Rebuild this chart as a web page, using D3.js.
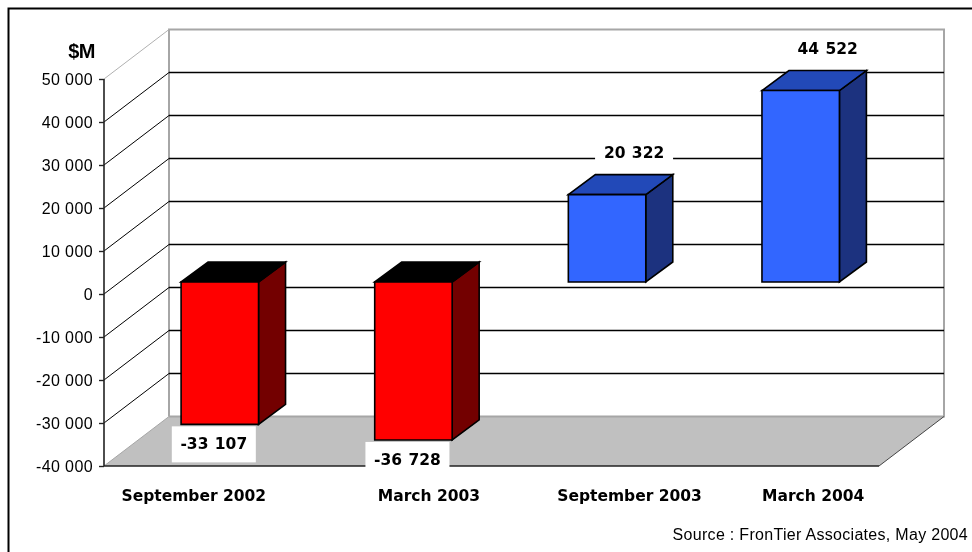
<!DOCTYPE html>
<html><head><meta charset="utf-8">
<style>html,body{margin:0;padding:0;background:#fff}svg{display:block}
text{font-family:"Liberation Sans",Arial,sans-serif;fill:#000}
.cat{font-family:"DejaVu Sans",sans-serif;font-weight:bold;font-size:15.5px}
.val{font-family:"DejaVu Sans",sans-serif;font-weight:bold;font-size:15.5px;word-spacing:1px}
.tick{font-size:16px;letter-spacing:.4px}
</style></head><body>
<script src="https://cdnjs.cloudflare.com/ajax/libs/d3/7.8.5/d3.min.js"></script>
<script>
const categories = ["September 2002","March 2003","September 2003","March 2004"];
const values = [-33107,-36728,20322,44522];
const valueLabels = ["-33 107","-36 728","20 322","44 522"];
const tickValues = [50000,40000,30000,20000,10000,0,-10000,-20000,-30000,-40000];
const tickLabels = ["50 000","40 000","30 000","20 000","10 000","0","-10 000","-20 000","-30 000","-40 000"];

const W=972,H=552;
const svg=d3.select("body").append("svg").attr("width",W).attr("height",H);
svg.append("defs").append("filter").attr("id","soft").attr("x","-2%").attr("y","-2%").attr("width","104%").attr("height","104%")
  .append("feGaussianBlur").attr("stdDeviation",0.45);
const g=svg.append("g").attr("filter","url(#soft)");

const frontL=104,frontR=879,wallDX=65,wallDY=-49.5;
const y=d3.scaleLinear().domain([-40000,50000]).range([466,79]);
const x=d3.scaleBand().domain(categories).range([123,897.5]).paddingInner(0.6).paddingOuter(0.3);
const barLift=-12,barDX=27,barDY=-20;
const catNudge=[-26,15.5,22.5,12.5];

// frame
g.append("path").attr("d",`M8.5,${H}V8.5H${W}`).attr("fill","none").attr("stroke","#000").attr("stroke-width",2);

// floor
const fy=y(-40000);
g.append("path").attr("fill","#c0c0c0")
 .attr("d",d3.line()([[frontL,fy],[frontL+wallDX,fy+wallDY],[frontR+wallDX,fy+wallDY],[frontR,fy]])+"Z");

// walls
const topY=y(50000)+wallDY;
g.append("path").attr("fill","none").attr("stroke","#a6a6a6").attr("stroke-width",2)
 .attr("d",`M${frontL+wallDX},${fy+wallDY}V${topY}H${frontR+wallDX}V${fy+wallDY}H${frontL+wallDX}`);
g.append("line").attr("x1",frontL).attr("y1",y(50000)).attr("x2",frontL+wallDX).attr("y2",topY).attr("stroke","#b0b0b0").attr("stroke-width",1);
g.append("line").attr("x1",frontL).attr("y1",fy).attr("x2",frontL+wallDX).attr("y2",fy+wallDY).attr("stroke","#a6a6a6").attr("stroke-width",1);
g.append("line").attr("x1",frontR).attr("y1",fy).attr("x2",frontR+wallDX).attr("y2",fy+wallDY).attr("stroke","#444").attr("stroke-width",1);

// gridlines
const inner=tickValues.filter(v=>v!==50000&&v!==-40000);
g.selectAll(".gb").data(inner).join("line").attr("x1",frontL+wallDX).attr("x2",frontR+wallDX)
 .attr("y1",d=>y(d)+wallDY).attr("y2",d=>y(d)+wallDY).attr("stroke","#000").attr("stroke-width",1.6);
g.selectAll(".gd").data(inner).join("line").attr("x1",frontL).attr("x2",frontL+wallDX)
 .attr("y1",d=>y(d)).attr("y2",d=>y(d)+wallDY).attr("stroke","#000").attr("stroke-width",1);

// bars
const bars=g.selectAll(".bar").data(categories).join("g");
bars.each(function(c,i){
  const v=values[i], s=d3.select(this), pos=v>=0;
  const x0=x(c),x1=x0+x.bandwidth();
  const a=Math.min(y(v),y(0))+barLift,b=Math.max(y(v),y(0))+barLift;
  const cols=pos?["#3366ff","#2349b8","#1a337f"]:["#ff0000","#000000","#730000"];
  const st={stroke:"#000","stroke-width":1.6,"stroke-linejoin":"miter"};
  const mk=(pts,f)=>{const p=s.append("path").attr("d",d3.line()(pts)+"Z").attr("fill",f);for(const k in st)p.attr(k,st[k]);};
  mk([[x1,a],[x1+barDX,a+barDY],[x1+barDX,b+barDY],[x1,b]],cols[2]);
  mk([[x0,a],[x0+barDX,a+barDY],[x1+barDX,a+barDY],[x1,a]],cols[1]);
  mk([[x0,a],[x1,a],[x1,b],[x0,b]],cols[0]);
});

// front axis
const axis=d3.axisLeft(y).tickValues(tickValues).tickSize(5).tickPadding(6)
 .tickFormat((d,i)=>tickLabels[i]);
const ax=g.append("g").attr("transform",`translate(${frontL},0)`).call(axis);
ax.select(".domain").attr("stroke","#222").attr("stroke-width",1.6).attr("d",`M0,${y(50000)}V${fy}`);
ax.selectAll("line").attr("stroke","#222").attr("stroke-width",1.4);
ax.selectAll("text").attr("class","tick").attr("text-anchor","end").attr("dy","0.34em").attr("x",-11);
g.append("line").attr("x1",frontL).attr("x2",frontR).attr("y1",fy).attr("y2",fy).attr("stroke","#222").attr("stroke-width",1.6);

// value labels
categories.forEach((c,i)=>{
  const v=values[i],cx=x(c)+x.bandwidth()/2,pos=v>=0;
  const tx=cx+(pos?27:-6);
  const ty=pos?y(v)+barLift-42:y(v)+barLift+19;
  g.append("rect").attr("x",tx-(pos?39:42)).attr("y",ty-17).attr("width",pos?78:84).attr("height",36).attr("fill","#fff");
  g.append("text").attr("class","val").attr("x",tx).attr("y",ty).attr("dy","0.36em").attr("text-anchor","middle").text(valueLabels[i]);
});

// category labels
g.selectAll(".cat").data(categories).join("text").attr("class","cat")
 .attr("x",(d,i)=>x(d)+x.bandwidth()/2+catNudge[i]).attr("y",501).attr("text-anchor","middle").text(d=>d);

g.append("text").attr("x",95).attr("y",58).attr("text-anchor","end").attr("font-weight","bold").attr("font-size",20).attr("letter-spacing","-0.5").text("$M");
g.append("text").attr("x",968).attr("y",540).attr("text-anchor","end").attr("font-size",16).attr("letter-spacing",".3").text("Source : FronTier Associates, May 2004");
</script></body></html>
